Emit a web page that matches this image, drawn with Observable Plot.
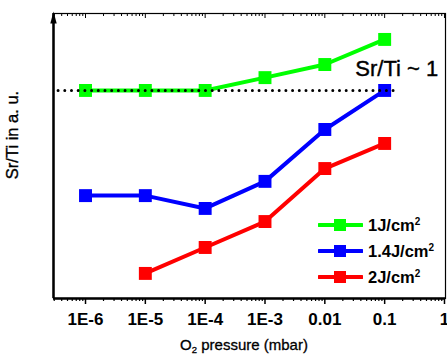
<!DOCTYPE html>
<html>
<head>
<meta charset="utf-8">
<script src="https://cdn.jsdelivr.net/npm/d3@7"></script>
<script src="https://cdn.jsdelivr.net/npm/@observablehq/plot@0.6"></script>
<style>
  html, body { margin: 0; padding: 0; background: white; }
  #wrap { position: relative; width: 447px; height: 360px; overflow: hidden; font-family: "Liberation Sans", Arial, sans-serif; color: black; }
  #wrap svg { position: absolute; left: 0; top: 0; }
  .ov { position: absolute; white-space: nowrap; }
  .leg { position: absolute; left: 318px; height: 20px; line-height: 20px; font-size: 16.5px; font-weight: bold; display: flex; align-items: center; }
  .leg svg { position: static !important; margin-right: 5px; }
  sup { font-size: 10px; vertical-align: 6px; line-height: 0; }
  sub { font-size: 9.5px; vertical-align: -3px; line-height: 0; }
</style>
</head>
<body>
<div id="wrap"></div>
<script>
// ---- data ----
const pressures = [1e-6, 1e-5, 1e-4, 1e-3, 1e-2, 1e-1];
const series1J = [73.0, 73.0, 73.0, 77.5, 82.1, 90.9];
const series14J = [36.1, 36.1, 31.6, 41.1, 59.3, 73.0];
const series2J = [null, 8.8, 17.9, 27.0, 45.6, 54.4];
const seriesNames = ["1J/cm2", "1.4J/cm2", "2J/cm2"];
const seriesColors = ["#00ff00", "#0000ff", "#ff0000"];
const tickValues = [1e-6, 1e-5, 1e-4, 1e-3, 1e-2, 1e-1, 1];
const tickLabels = ["1E-6", "1E-5", "1E-4", "1E-3", "0.01", "0.1", "1"];
const refLevel = 73.0;              // Sr/Ti ~ 1 dotted level
const refRange = [10 ** -6.45, 10 ** -0.77];
const refLabel = "Sr/Ti ~ 1";
const refLabelPos = [10 ** -1.49, 80.4];
const xDomain = [10 ** -6.535, 10 ** 0.017];
const yDomain = [0, 100];

const allSeries = [series1J, series14J, series2J];
const rows = [];
allSeries.forEach((vals, s) => {
  vals.forEach((v, i) => {
    if (v != null) rows.push({ series: seriesNames[s], p: pressures[i], v });
  });
});

const minorTicks = [];
for (let e = -7; e <= 0; e++) {
  for (let k = 2; k <= 9; k++) {
    const t = k * 10 ** e;
    if (t >= xDomain[0] && t <= xDomain[1]) minorTicks.push(t);
  }
}
const labelFor = d => {
  const i = tickValues.findIndex(t => Math.abs(Math.log10(t) - Math.log10(d)) < 1e-6);
  return i >= 0 ? tickLabels[i] : "";
};

const arrowSymbol = {
  draw(ctx) {
    ctx.moveTo(0, -6);
    ctx.lineTo(3.2, 6);
    ctx.lineTo(-3.2, 6);
    ctx.closePath();
  }
};

const seriesMarks = [];
seriesNames.forEach((name, s) => {
  const data = rows.filter(r => r.series === name);
  seriesMarks.push(Plot.line(data, { x: "p", y: "v", stroke: seriesColors[s], strokeWidth: 4 }));
});
seriesNames.forEach((name, s) => {
  const data = rows.filter(r => r.series === name);
  seriesMarks.push(Plot.dot(data, { x: "p", y: "v", symbol: "square", r: 7.3, fill: seriesColors[s], stroke: "none" }));
});

const chart = Plot.plot({
  width: 447,
  height: 360,
  marginLeft: 53,
  marginRight: 2,
  marginTop: 13,
  marginBottom: 62,
  style: { fontFamily: '"Liberation Sans", Arial, sans-serif', background: "transparent", overflow: "visible", color: "black" },
  x: { type: "log", domain: xDomain },
  y: { domain: yDomain, axis: null },
  marks: [
    Plot.frame({ stroke: "black", strokeWidth: 1.2 }),
    Plot.axisX({ ticks: tickValues, tickFormat: labelFor, tickSize: 6, tickPadding: 8, fontSize: 17, fontWeight: "bold", label: null, strokeWidth: 1.5 }),
    Plot.axisX({ ticks: minorTicks, tickSize: 3, text: null, label: null, strokeWidth: 1.2 }),
    Plot.axisX({ anchor: "top", ticks: tickValues, tickSize: -4, text: null, label: null }),
    Plot.axisX({ anchor: "top", ticks: minorTicks, tickSize: -2, text: null, label: null }),
    Plot.ruleY([yDomain[0]], { stroke: "black", strokeWidth: 2.5 }),
    Plot.ruleX([xDomain[0]], { y1: yDomain[0], y2: yDomain[1], stroke: "black", strokeWidth: 2.5 }),
    Plot.dot([xDomain[0]], { x: d => d, y: () => yDomain[1], symbol: arrowSymbol, fill: "black", stroke: "none", dy: 4 }),
    ...seriesMarks,
    Plot.ruleY([refLevel], { x1: refRange[0], x2: refRange[1], stroke: "black", strokeWidth: 3, strokeDasharray: "0 6.7", strokeLinecap: "round" }),
    Plot.text([refLabel], { x: () => refLabelPos[0], y: () => refLabelPos[1], text: d => d, textAnchor: "start", fontSize: 22, fill: "black", stroke: "black", strokeWidth: 0.4 })
  ]
});

const wrap = document.getElementById("wrap");
wrap.appendChild(chart);

// axis titles
const xt = document.createElement("div");
xt.className = "ov";
xt.style.cssText = "left:144px;width:200px;top:338px;text-align:center;font-size:15px;line-height:14px;-webkit-text-stroke:0.3px black;";
xt.innerHTML = "O<sub>2</sub> pressure (mbar)";
wrap.appendChild(xt);

const yt = document.createElement("div");
yt.className = "ov";
yt.style.cssText = "left:-88px;width:200px;top:127px;height:16px;text-align:center;font-size:16.5px;line-height:16px;-webkit-text-stroke:0.35px black;transform:rotate(-90deg);transform-origin:100px 8px;";
yt.textContent = "Sr/Ti in a. u.";
wrap.appendChild(yt);

// legend
const legTops = [215, 241, 267];
seriesNames.forEach((name, s) => {
  const row = document.createElement("div");
  row.className = "leg";
  row.style.top = legTops[s] + "px";
  const c = seriesColors[s];
  row.innerHTML = `<svg width="45" height="20"><line x1="1" y1="10" x2="44" y2="10" stroke="${c}" stroke-width="4" stroke-linecap="round"/><rect x="16" y="4" width="12" height="12" fill="${c}"/></svg><span>${name.replace(/2$/, "")}<sup>2</sup></span>`;
  wrap.appendChild(row);
});
</script>
</body>
</html>
